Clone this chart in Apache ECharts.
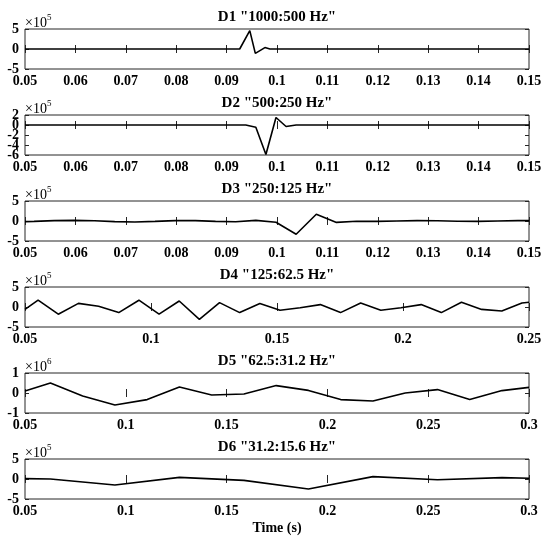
<!DOCTYPE html>
<html>
<head>
<meta charset="utf-8">
<script src="https://cdn.jsdelivr.net/npm/echarts@6/dist/echarts.min.js"></script>
<style>
html, body { margin: 0; padding: 0; background: #fff; }
#main { width: 545px; height: 539px; }
</style>
</head>
<body>
<div id="main"></div>
<script>
// subplot titles and the power of ten shown above each y axis
var titles = ['D1 "1000:500 Hz"', 'D2 "500:250 Hz"', 'D3 "250:125 Hz"',
              'D4 "125:62.5 Hz"', 'D5 "62.5:31.2 Hz"', 'D6 "31.2:15.6 Hz"'];
var exponents = [5, 5, 5, 5, 6, 5];

// x axis: [min, max, interval]
var xRanges = [[0.05, 0.15, 0.01], [0.05, 0.15, 0.01], [0.05, 0.15, 0.01],
               [0.05, 0.25, 0.05], [0.05, 0.3, 0.05], [0.05, 0.3, 0.05]];
// y tick labels (in units of 10^n), first and last are the axis limits
var yTicks = [[-5, 0, 5], [-6, -4, -2, 0, 2], [-5, 0, 5], [-5, 0, 5], [-1, 0, 1], [-5, 0, 5]];

// detail coefficients, time (s) and value (x10^n)
var d1Time = [0.05, 0.0926, 0.0946, 0.0957, 0.0976, 0.0986, 0.15];
var d1Vals = [0, 0, 4.6, -1.1, 0.35, 0, 0];

var d2Time = [0.05, 0.0938, 0.0958, 0.0978, 0.0998, 0.1018, 0.1038, 0.15];
var d2Vals = [0, 0, -0.45, -5.9, 1.5, -0.3, 0, 0];

var d3Time = [0.05, 0.0518, 0.0558, 0.0598, 0.0638, 0.0678, 0.0718, 0.0758, 0.0798, 0.0838,
              0.0878, 0.0918, 0.0958, 0.0998, 0.1038, 0.1078, 0.1118, 0.1158, 0.1198, 0.1238,
              0.1278, 0.1318, 0.1358, 0.1398, 0.1438, 0.1478, 0.15];
var d3Vals = [-0.15, -0.1, 0.1, 0.15, 0.05, -0.15, -0.25, -0.1, 0.1, 0.1,
              -0.1, -0.2, 0.15, -0.3, -3.3, 1.7, -0.35, -0.05, -0.1, 0.0,
              0.1, 0.05, -0.05, -0.1, 0.0, 0.1, 0.1];

var d4Time = [0.05, 0.0552, 0.0632, 0.0712, 0.0792, 0.0872, 0.0952, 0.1032, 0.1112, 0.1192,
              0.1272, 0.1352, 0.1432, 0.1512, 0.1592, 0.1672, 0.1752, 0.1832, 0.1912, 0.1992,
              0.2072, 0.2152, 0.2232, 0.2312, 0.2392, 0.2472, 0.25];
var d4Vals = [-0.6, 1.7, -1.8, 0.9, 0.2, -1.4, 1.7, -1.8, 1.5, -3.1,
              1.1, -1.4, 0.9, -0.8, -0.2, 0.6, -1.4, 1.0, -0.8, -0.2,
              0.6, -1.4, 1.2, -0.6, -1.0, 1.0, 1.2];

var d5Time = [0.05, 0.0626, 0.0786, 0.0946, 0.1106, 0.1266, 0.1426, 0.1586, 0.1746, 0.1906,
              0.2066, 0.2226, 0.2386, 0.2546, 0.2706, 0.2866, 0.3];
var d5Vals = [0.1, 0.5, -0.15, -0.6, -0.33, 0.3, -0.1, -0.05, 0.37, 0.13,
              -0.33, -0.4, 0.0, 0.17, -0.33, 0.12, 0.28];

var d6Time = [0.05, 0.0626, 0.0946, 0.1266, 0.1586, 0.1906, 0.2226, 0.2546, 0.2866, 0.3];
var d6Vals = [0.1, 0.0, -1.5, 0.4, -0.35, -2.5, 0.6, -0.2, 0.35, 0.2];

var times = [d1Time, d2Time, d3Time, d4Time, d5Time, d6Time];
var values = [d1Vals, d2Vals, d3Vals, d4Vals, d5Vals, d6Vals];

var myChart = echarts.init(document.getElementById('main'));

var font = "'Liberation Serif', 'Times New Roman', serif";
var ink = '#262626';
var gridLeft = 25, gridWidth = 504, gridH = 40, firstTop = 29, step = 86;

var grids = [], xAxes = [], yAxes = [], series = [];

for (var i = 0; i < 6; i++) {
	var gTop = firstTop + step * i;
	grids.push({
		left: gridLeft, top: gTop, width: gridWidth, height: gridH,
		show: true, borderColor: ink, borderWidth: 1, backgroundColor: '#fff'
	});
	var xr = xRanges[i], yt = yTicks[i];
	var yMin = yt[0], yMax = yt[yt.length - 1];
	var tick = { show: true, inside: true, length: 4, lineStyle: { color: ink } };
	var yTick = { show: true, inside: true, length: 4, customValues: yt, lineStyle: { color: ink } };
	// bottom axis with labels
	xAxes.push({
		type: 'value', gridIndex: i, position: 'bottom',
		min: xr[0], max: xr[1], interval: xr[2],
		axisLine: { show: false },
		axisTick: tick,
		splitLine: { show: false },
		axisLabel: {
			show: true, margin: 5, color: '#000', fontFamily: font, fontWeight: 'bold', fontSize: 14,
			showMinLabel: true, showMaxLabel: true, hideOverlap: false,
			formatter: function (v) { return String(parseFloat(v.toFixed(3))); }
		},
		name: i === 5 ? 'Time (s)' : '',
		nameLocation: 'middle', nameGap: 22,
		nameTextStyle: { color: '#000', fontFamily: font, fontWeight: 'bold', fontSize: 14 }
	});
	// top axis: ticks only
	xAxes.push({
		type: 'value', gridIndex: i, position: 'top',
		min: xr[0], max: xr[1], interval: xr[2],
		axisLine: { show: false },
		axisTick: tick,
		splitLine: { show: false },
		axisLabel: { show: false }
	});
	// left axis: ticks and the x10^n note (tick labels are placed below)
	yAxes.push({
		type: 'value', gridIndex: i, position: 'left',
		min: yMin, max: yMax,
		axisLine: { show: false },
		axisTick: yTick,
		splitLine: { show: false },
		axisLabel: { show: false, customValues: yt },
		name: '{m|\u00d710}{e|' + exponents[i] + '}',
		nameLocation: 'end', nameGap: -1,
		nameTextStyle: {
			align: 'left', verticalAlign: 'bottom',
			rich: {
				m: { fontFamily: font, fontSize: 14, color: '#000', verticalAlign: 'bottom' },
				e: { fontFamily: font, fontSize: 9, color: '#000', verticalAlign: 'top', padding: [0, 0, 8, 0] }
			}
		}
	});
	// right axis: ticks only
	yAxes.push({
		type: 'value', gridIndex: i, position: 'right',
		min: yMin, max: yMax,
		axisLine: { show: false },
		axisTick: yTick,
		splitLine: { show: false },
		axisLabel: { show: false, customValues: yt }
	});

	var pts = [];
	for (var k = 0; k < times[i].length; k++) pts.push([times[i][k], values[i][k]]);
	series.push({
		type: 'line', xAxisIndex: 2 * i, yAxisIndex: 2 * i,
		data: pts, showSymbol: false, symbol: 'none', animation: false,
		lineStyle: { color: '#000', width: 1.6 }
	});
}

var option = {
	animation: false,
	backgroundColor: '#fff',
	grid: grids,
	xAxis: xAxes,
	yAxis: yAxes,
	series: series
};

myChart.setOption(option);

// titles, and y tick labels placed through the axis scale (ECharts drops
// every other label on the crowded D2 axis otherwise)
var graphics = [];
for (var i = 0; i < 6; i++) {
	var gTop = firstTop + step * i;
	graphics.push({
		type: 'text', x: gridLeft + gridWidth / 2, y: gTop - 11.5,
		style: {
			text: titles[i], fill: '#000', font: 'bold 15px ' + font,
			textAlign: 'center', textVerticalAlign: 'middle'
		}
	});
	yTicks[i].forEach(function (v) {
		var py = myChart.convertToPixel({ yAxisIndex: 2 * i }, v);
		graphics.push({
			type: 'text', x: gridLeft - 6, y: py,
			style: {
				text: String(v), fill: '#000', font: 'bold 14px ' + font,
				textAlign: 'right', textVerticalAlign: 'middle'
			}
		});
	});
}
myChart.setOption({ graphic: graphics });
</script>
</body>
</html>
